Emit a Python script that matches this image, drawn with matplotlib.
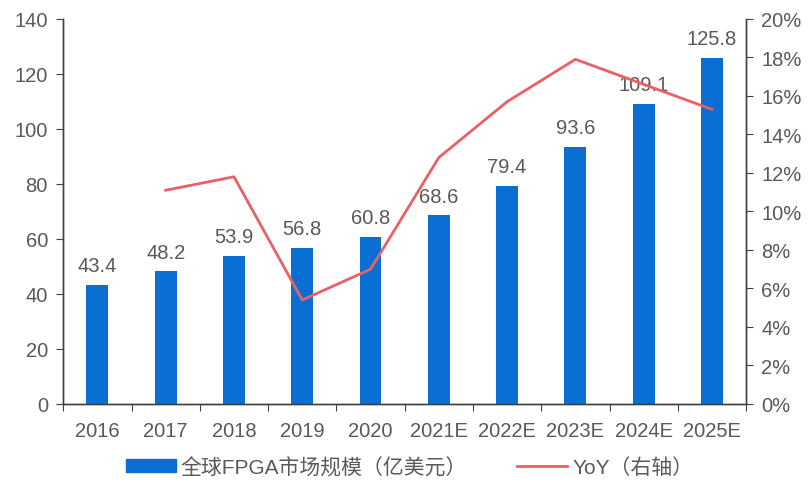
import numpy as np
import matplotlib
matplotlib.use("Agg")
import matplotlib.pyplot as plt
from matplotlib.ticker import FuncFormatter, MultipleLocator

plt.rcParams["font.family"] = ["Liberation Sans", "Noto Sans CJK SC", "DejaVu Sans"]

years = ["2016", "2017", "2018", "2019", "2020",
         "2021E", "2022E", "2023E", "2024E", "2025E"]
market_size = [43.4, 48.2, 53.9, 56.8, 60.8, 68.6, 79.4, 93.6, 109.1, 125.8]
yoy_years = years[1:]
yoy_pct = [11.1, 11.8, 5.4, 7.0, 12.8, 15.7, 17.9, 16.6, 15.3]

bar_color = "#0A6FD2"
line_color = "#EA5F68"
text_gray = "#595959"
fs = 14.5

fig = plt.figure(figsize=(8.11, 4.85), dpi=100)
ax = fig.add_axes([0.078, 0.165, 0.842, 0.794])
ax2 = ax.twinx()

x = np.arange(len(years))
ax.bar(x, market_size, width=0.32, color=bar_color, zorder=2)
for xi, v in zip(x, market_size):
    ax.text(xi, v + 3.5, f"{v:.1f}", ha="center", va="bottom",
            fontsize=fs, color=text_gray)

yoy_x = [years.index(y) for y in yoy_years]
ax2.plot(yoy_x, yoy_pct, color=line_color, lw=2.0, zorder=3)

ax.set_xlim(-0.5, len(years) - 0.5)
ax.set_ylim(0, 140)
ax.yaxis.set_major_locator(MultipleLocator(20))
ax2.set_ylim(0, 20)
ax2.yaxis.set_major_locator(MultipleLocator(2))
ax2.yaxis.set_major_formatter(FuncFormatter(lambda v, _: f"{v:.0f}%"))

# tick marks sit between categories, labels centred under bars
ax.set_xticks(np.arange(len(years) + 1) - 0.5)
ax.set_xticklabels([])
ax.set_xticks(x, minor=True)
ax.set_xticklabels(years, minor=True)
ax.tick_params(axis="x", which="minor", length=0, pad=12,
               labelsize=fs, labelcolor=text_gray)
ax.tick_params(axis="x", which="major", length=5, color="#404040")

ax.tick_params(axis="y", length=5, color="#404040", labelsize=fs,
               labelcolor=text_gray, pad=6)
ax2.tick_params(axis="y", length=5, color="#404040", labelsize=fs,
                labelcolor=text_gray, pad=6)

for a in (ax, ax2):
    a.spines["top"].set_visible(False)
    for s in ("left", "right", "bottom"):
        a.spines[s].set_color("#404040")
        a.spines[s].set_linewidth(1.0)

ax.set_zorder(ax2.get_zorder() - 1)
ax.patch.set_visible(False)

handles = [
    plt.Rectangle((0, 0), 1, 1, color=bar_color),
    plt.Line2D([0], [0], color=line_color, lw=2.0),
]
labels = ["全球FPGA市场规模（亿美元）", "YoY（右轴）"]
fig.legend(handles, labels, loc="center", bbox_to_anchor=(0.505, 0.035),
           ncol=2, frameon=False, fontsize=15, labelcolor=text_gray,
           handlelength=2.4, handleheight=0.6, columnspacing=2.4,
           handletextpad=0.25)

fig.savefig("out.png", dpi=100)
